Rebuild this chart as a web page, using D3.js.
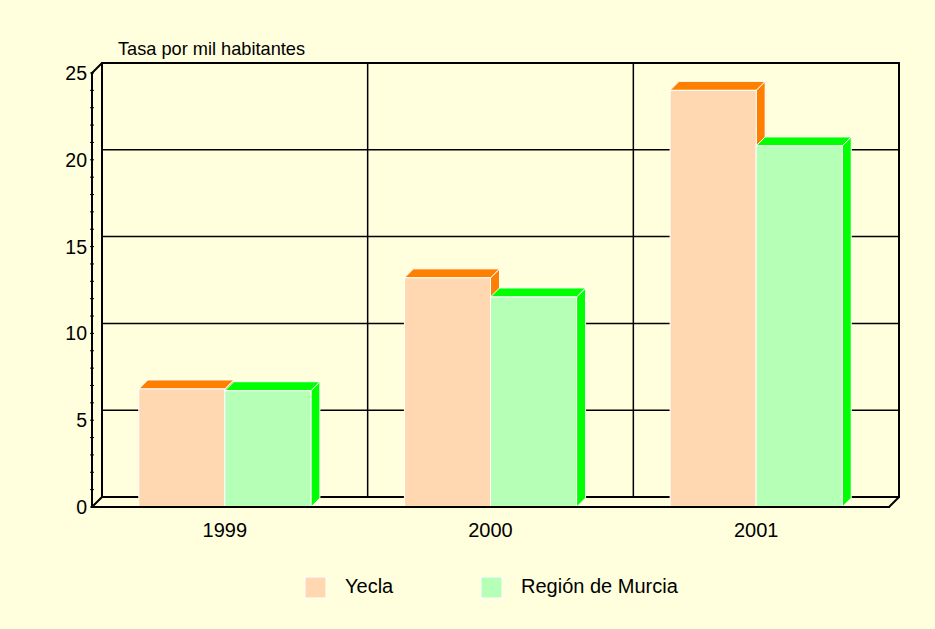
<!DOCTYPE html>
<html><head><meta charset="utf-8">
<script src="https://cdn.jsdelivr.net/npm/d3@7"></script>
<style>html,body{margin:0;padding:0;background:#FFFFDD;}svg{display:block;}</style>
</head><body>
<script>
const categories = ["1999", "2000", "2001"];
const seriesNames = ["Yecla", "Región de Murcia"];
const yecla = [6.8, 13.2, 24.0];
const murcia = [6.7, 12.1, 20.8];
const yTicks = [0, 5, 10, 15, 20, 25];
const yTitle = "Tasa por mil habitantes";

const W = 935, H = 629;
const front = {x0: 92, x1: 889, y0: 507, y1: 73};
const wallD = 10;   // depth offset of back wall
const barD = 9;     // depth offset of bars
const frontColors = ["#FFD8B2", "#B6FFB6"];
const sideColors = ["#FF8000", "#00FF00"];
const FONT = "Liberation Sans, Arial, sans-serif";

const svg = d3.select("body").append("svg").attr("width", W).attr("height", H);
svg.append("rect").attr("width", W).attr("height", H).attr("fill", "#FFFFDD");

const y = d3.scaleLinear().domain([0, 25]).range([front.y0, front.y1]);
const x = d3.scaleBand().domain(categories).range([front.x0, front.x1]).paddingInner(0.352).paddingOuter(0.176);
const xs = d3.scaleBand().domain(seriesNames).range([0, x.bandwidth()]);

const g = svg.append("g");
const bx0 = front.x0 + wallD, bx1 = front.x1 + wallD;
yTicks.filter(t => t > 0 && t < 25).forEach(t => {
  g.append("line").attr("x1", bx0).attr("x2", bx1).attr("y1", y(t) - wallD).attr("y2", y(t) - wallD)
    .attr("stroke", "#000").attr("stroke-width", 1.5);
});
const step = x.step();
[1, 2].forEach(i => {
  const xx = front.x0 + step * i + wallD;
  g.append("line").attr("x1", xx).attr("x2", xx).attr("y1", y(25) - wallD).attr("y2", y(0) - wallD)
    .attr("stroke", "#000").attr("stroke-width", 1.5);
});
const frame = [
  [[bx0, y(25) - wallD], [bx1, y(25) - wallD]],
  [[bx1, y(25) - wallD], [bx1, y(0) - wallD]],
  [[bx0, y(25) - wallD], [bx0, y(0) - wallD]],
  [[bx0, y(0) - wallD], [bx1, y(0) - wallD]],
  [[front.x0, y(25)], [bx0, y(25) - wallD]],
  [[front.x0, y(0)], [bx0, y(0) - wallD]],
  [[front.x1, y(0)], [bx1, y(0) - wallD]],
  [[front.x0, y(0)], [front.x1, y(0)]],
  [[front.x0, y(0)], [front.x0, y(25)]]
];
frame.forEach(s => {
  g.append("line").attr("x1", s[0][0]).attr("y1", s[0][1]).attr("x2", s[1][0]).attr("y2", s[1][1])
    .attr("stroke", "#000").attr("stroke-width", 2).attr("stroke-linecap", "round");
});
d3.range(0, 26).forEach(v => {
  g.append("line").attr("x1", front.x0 - 2).attr("x2", front.x0 + 2).attr("y1", y(v)).attr("y2", y(v))
    .attr("stroke", "#000").attr("stroke-width", 1);
});
yTicks.forEach(t => {
  svg.append("text").attr("x", front.x0 - 5).attr("y", y(t)).attr("dy", "0.36em")
    .attr("text-anchor", "end").attr("font-family", FONT)
    .attr("font-size", 19.5).attr("fill", "#000").text(t);
});
svg.append("text").attr("x", 118).attr("y", 55).attr("font-family", FONT)
  .attr("font-size", 18.2).attr("fill", "#000").text(yTitle);

const series = [yecla, murcia];
categories.forEach((c, ci) => {
  series.forEach((vals, si) => {
    const v = vals[ci];
    const x0 = x(c) + xs(seriesNames[si]);
    const x1 = x0 + xs.bandwidth();
    const yt = y(v), yb = y(0);
    const bg = svg.append("g");
    bg.append("polygon").attr("points", [[x1, yt], [x1 + barD, yt - barD], [x1 + barD, yb - barD], [x1, yb]].join(" "))
      .attr("fill", sideColors[si]).attr("stroke", "#fff").attr("stroke-width", 1);
    bg.append("polygon").attr("points", [[x0, yt], [x0 + barD, yt - barD], [x1 + barD, yt - barD], [x1, yt]].join(" "))
      .attr("fill", sideColors[si]).attr("stroke", "#fff").attr("stroke-width", 1);
    bg.append("rect").attr("x", x0).attr("y", yt).attr("width", x1 - x0).attr("height", yb - yt)
      .attr("fill", frontColors[si]).attr("stroke", "#fff").attr("stroke-width", 1);
  });
});
svg.append("line").attr("x1", front.x0).attr("x2", front.x1).attr("y1", y(0)).attr("y2", y(0))
  .attr("stroke", "#000").attr("stroke-width", 2);

categories.forEach(c => {
  svg.append("text").attr("x", x(c) + x.bandwidth() / 2).attr("y", 537)
    .attr("text-anchor", "middle").attr("font-family", FONT)
    .attr("font-size", 20).attr("fill", "#000").text(c);
});

const legX = [305, 481];
seriesNames.forEach((n, i) => {
  svg.append("rect").attr("x", legX[i]).attr("y", 577).attr("width", 21).attr("height", 21)
    .attr("fill", frontColors[i]).attr("stroke", "#fff").attr("stroke-width", 1);
  svg.append("text").attr("x", legX[i] + 40).attr("y", 593).attr("font-family", FONT)
    .attr("font-size", 20).attr("fill", "#000").text(n);
});
</script>
</body></html>
